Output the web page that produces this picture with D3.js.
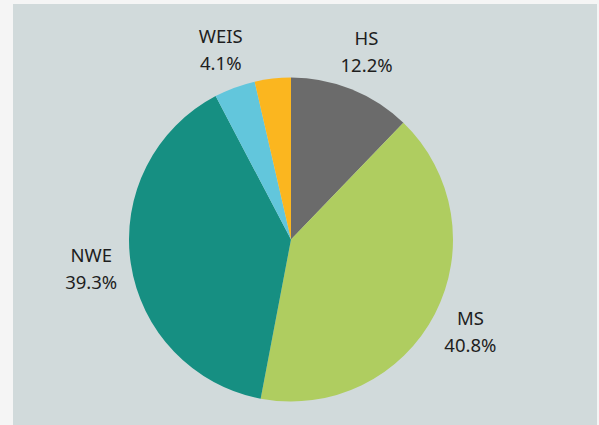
<!DOCTYPE html>
<html lang="en">
<head>
	<meta charset="utf-8">
	<title>pie</title>
	<script src="https://d3js.org/d3.v7.min.js"></script>
	<style type="text/css">
		body { margin: 0; background: #f5f5f5; }
		.label { font-family: "Noto Sans", sans-serif; font-size: 18.5px; fill: #1e1e1e; }
	</style>
</head>
<body>
	<svg id="chart"></svg>
	<script type="text/javascript">
		// data
		var categories = ["HS", "MS", "NWE", "WEIS", "Other"]
		var shares = [12.2, 40.8, 39.3, 4.1, 3.6]
		var labels = ["12.2%", "40.8%", "39.3%", "4.1%", ""]

		var colors = ["#6b6b6b", "#afcd60", "#168f82", "#62c6dc", "#fbb61f"]

		var wholeW = 599
		var wholeH = 425
		var cx = 291, cy = 239.5
		var radius = 162
		var labelR = 202

		var svg = d3.select("#chart")
			.attr("width", wholeW)
			.attr("height", wholeH)

		// panel
		svg.append("rect")
			.attr("x", 13).attr("y", 4)
			.attr("width", 584).attr("height", 421)
			.attr("fill", "#d1dadb")

		var data = categories.map((c, i) => ({name: c, value: shares[i], label: labels[i], color: colors[i]}))

		var pie = d3.pie().sort(null).value(d => d.value)
		var arc = d3.arc().innerRadius(0).outerRadius(radius)
		var labelArc = d3.arc().innerRadius(labelR).outerRadius(labelR)

		var g = svg.append("g").attr("transform", "translate(" + cx + "," + cy + ")")

		g.selectAll("path")
			.data(pie(data))
			.join("path")
			.attr("d", arc)
			.attr("fill", d => d.data.color)

		// labels, skip the small unnamed slice
		var lab = g.selectAll("text")
			.data(pie(data).filter(d => d.data.label !== ""))
			.join("text")
			.attr("class", "label")
			.attr("text-anchor", "middle")
			.attr("transform", d => "translate(" + labelArc.centroid(d) + ")")

		lab.append("tspan").attr("x", 0).attr("y", -7.5).text(d => d.data.name)
		lab.append("tspan").attr("x", 0).attr("y", 19.5).text(d => d.data.label)
	</script>
</body>
</html>
